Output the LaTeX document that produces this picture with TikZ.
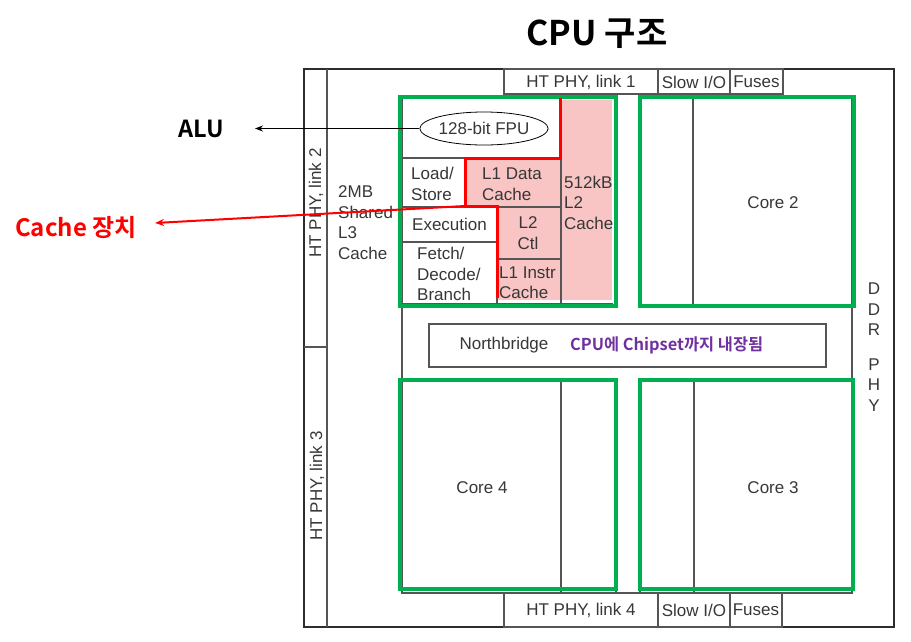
\documentclass[tikz,border=0pt]{standalone}
\usepackage{fontspec}
\setmainfont{Liberation Sans}
\newfontfamily\krb{Noto Sans CJK KR Bold}
\usetikzlibrary{arrows.meta,shapes.geometric}
\definecolor{cgreen}{RGB}{0,176,80}
\definecolor{pinkc}{RGB}{248,196,196}
\definecolor{lgray}{RGB}{85,85,85}
\definecolor{dgray}{RGB}{45,45,45}
\definecolor{txt}{RGB}{55,55,55}
\definecolor{purp}{RGB}{112,48,160}
\tikzset{
  lbl/.style={font=\fontsize{17}{20.5}\selectfont, text=txt, inner sep=0pt, align=left},
  lblc/.style={lbl, align=center},
  gl/.style={draw=lgray, line width=1.2pt},
  corebox/.style={draw=cgreen, line width=4pt},
  redl/.style={draw=red, line width=3pt, line join=miter},
  kbold/.style={font=\krb\fontsize{#1}{#1}\selectfont, inner sep=0pt},
}
\begin{document}
\begin{tikzpicture}[x=1pt,y=-1pt]
\useasboundingbox[fill=white] (0,0) rectangle (911,641);

% pink cache areas
\fill[pinkc] (562,100) rectangle (612,300);
\fill[pinkc] (466,158) rectangle (560,207);
\fill[pinkc] (497,207) rectangle (560,300);

% chip frame
\draw[dgray, line width=2pt] (304,69) rectangle (894,627);
\draw[gl] (327,69) -- (327,627);
\draw[gl] (304,347) -- (327,347);
% top row
\draw[gl] (504,69) rectangle (658,94);
\draw[gl] (658,69) rectangle (730,94);
\draw[gl] (730,69) rectangle (783,94);
% bottom row
\draw[gl] (504,593) rectangle (658,627);
\draw[gl] (658,593) rectangle (730,627);
\draw[gl] (730,593) rectangle (782,627);
% core region (left, bottom, right sides)
\draw[gl] (402,97) -- (402,593) -- (852,593) -- (852,97);
% core 1 internals
\draw[gl] (402,158) -- (465,158);
\draw[gl] (402,207) -- (561,207);
\draw[gl] (402,242) -- (497,242);
\draw[gl] (497,259) -- (561,259);
\draw[gl] (465,158) -- (465,207);
\draw[gl] (497,207) -- (497,304);
\draw[gl] (561,100) -- (561,304);
\draw[gl] (402,304) -- (613,304);
% cores 2,3,4
\draw[gl] (640,97) rectangle (852,306);
\draw[gl] (693,97) -- (693,306);
\draw[gl] (640,380) rectangle (852,593);
\draw[gl] (694,380) -- (694,593);
\draw[gl] (402,380) rectangle (616,593);
\draw[gl] (561,380) -- (561,593);
% northbridge
\draw[gl] (429,324) rectangle (826,367);

% texts
\node[lbl] (l1) at (581,82) {HT PHY, link 1};
\node[lbl] (s1) at (694,82) {Slow I/O};
\node[lbl] (f1) at (756.5,82) {Fuses};
\node[lbl] (l4) at (581,610) {HT PHY, link 4};
\node[lbl] (s4) at (694,610) {Slow I/O};
\node[lbl] (f4) at (756,610) {Fuses};
\node[lbl, rotate=90] (l2) at (316,203) {HT PHY, link 2};
\node[lbl, rotate=90] (l3) at (317,486) {HT PHY, link 3};
\node[lbl, anchor=west] (l3c) at (338,222.5) {2MB\\Shared\\L3\\Cache};
\node[lblc] (ddr) at (874,347) {D\\D\\R\\[14pt]P\\H\\Y};
\node[lbl] (c2) at (773,203) {Core 2};
\node[lbl] (c3) at (773,488) {Core 3};
\node[lbl] (c4) at (482,488) {Core 4};
\node[lbl] (nb) at (504,345.5) {Northbridge};
\node[kbold=16.4, text=purp, anchor=west] (chip) at (570,345.5) {CPU에 Chipset까지 내장됨};
\node[lbl, draw=black, line width=0.8pt, ellipse, minimum width=120, minimum height=33, align=center] (fpu) at (484,128.5) {128-bit FPU};
\node[lbl, anchor=west] (ls) at (411,184) {Load/\\Store};
\node[lbl, anchor=west] (ex) at (412,224) {Execution};
\node[lbl, anchor=west] (fd) at (417,274) {Fetch/\\Decode/\\Branch};
\node[lbl, anchor=west] (l1d) at (482,184) {L1 Data\\Cache};
\node[lblc] (l2c) at (528,233) {L2\\Ctl};
\node[lbl, anchor=west] (l1i) at (499,282.5) {L1 Instr\\Cache};
\node[lbl, anchor=west] (l2k) at (564,202.5) {512kB\\L2\\Cache};

% green core frames
\draw[corebox] (400,97) rectangle (616,306);
\draw[corebox] (640,97) rectangle (854,306);
\draw[corebox] (400,380) rectangle (616,589);
\draw[corebox] (640,380) rectangle (853,589);

% red cache outline
\draw[redl] (560,98) -- (560,158) -- (465,158) -- (465,206) -- (497,206) -- (497,298);

% annotations
\node[kbold=34] (title) at (597,34) {CPU 구조};
\node[kbold=23.5] (alu) at (201,129) {ALU};
\node[kbold=24, text=red] (cache) at (76,228) {Cache 장치};
\coordinate (alutip) at (255,128.5);
\coordinate (redcorner) at (465,206);
\coordinate (cachetip) at (155,223);
\draw[black, line width=0.9pt, -{Stealth[length=8pt,width=6pt]}] (fpu.west) -- (alutip);
\draw[red, line width=2pt, -{Stealth[length=9pt,width=7pt]}] (redcorner) -- (cachetip);
\end{tikzpicture}
\end{document}
